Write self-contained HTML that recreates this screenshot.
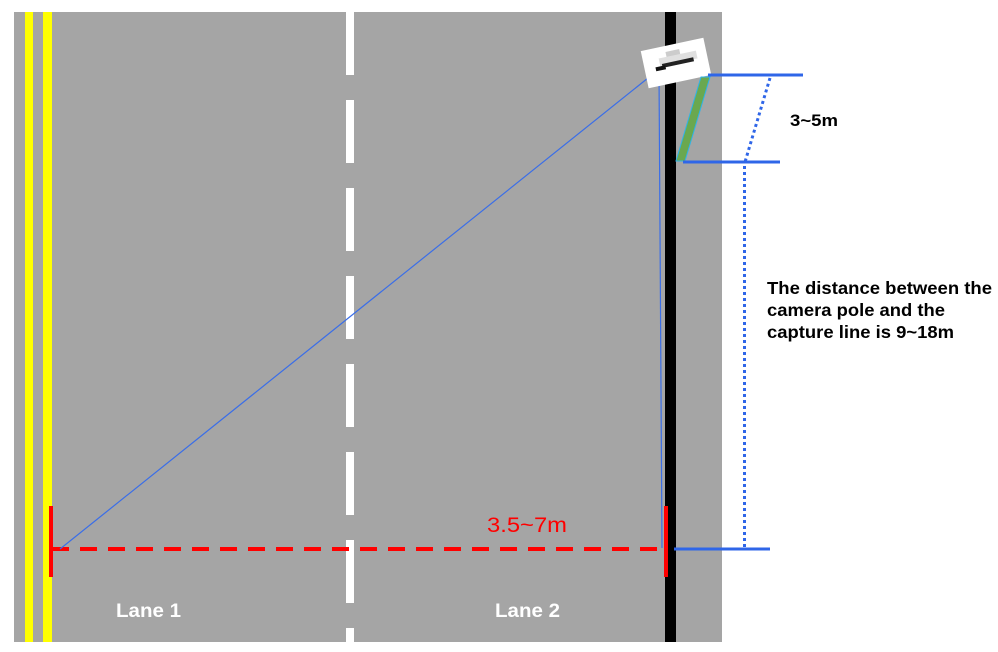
<!DOCTYPE html>
<html><head><style>html,body{margin:0;padding:0;background:#fff}svg{display:block}</style></head>
<body>
<svg width="998" height="652" viewBox="0 0 998 652" xmlns="http://www.w3.org/2000/svg" font-family="Liberation Sans, Arial, sans-serif">
<rect x="14" y="12" width="708" height="630" fill="#a5a5a5"/>
<rect x="25" y="12" width="8" height="630" fill="#ffff00"/>
<rect x="43" y="12" width="9" height="630" fill="#ffff00"/>
<line x1="350" y1="12" x2="350" y2="642" stroke="#fff" stroke-width="8" stroke-dasharray="63 25"/>
<rect x="665" y="12" width="11" height="630" fill="#000"/>
<line x1="52" y1="549" x2="664" y2="549" stroke="#ff0000" stroke-width="4" stroke-dasharray="17 11"/>
<rect x="49" y="506" width="4" height="71" fill="#ff0000"/>
<rect x="664" y="506" width="4" height="71" fill="#ff0000"/>
<line x1="60" y1="549" x2="658" y2="70" stroke="#3a6ee8" stroke-width="1.2"/>
<line x1="659" y1="72" x2="662" y2="548" stroke="#3a6ee8" stroke-width="1.2"/>
<g transform="rotate(-12 676 63)">
<rect x="644" y="44" width="64" height="38" fill="#fff"/>
<rect x="668" y="50" width="14" height="6" fill="#ccc"/>
<rect x="660" y="55" width="38" height="8" fill="#e0e0e0"/>
<rect x="662" y="61" width="32" height="4" fill="#222"/>
<rect x="655" y="63" width="10" height="4" fill="#111"/>
</g>
<polygon points="701,77 710,77 685,161 676,161" fill="#6aa84f" stroke="#2db4e8" stroke-width="1"/>
<line x1="708" y1="75" x2="803" y2="75" stroke="#2f66e8" stroke-width="3"/>
<line x1="683" y1="162" x2="780" y2="162" stroke="#2f66e8" stroke-width="3"/>
<line x1="674" y1="549" x2="770" y2="549" stroke="#2f66e8" stroke-width="3"/>
<line x1="770" y1="78" x2="745" y2="162" stroke="#2f66e8" stroke-width="3" stroke-dasharray="3 3"/>
<line x1="744.5" y1="166" x2="744.5" y2="549" stroke="#2f66e8" stroke-width="3" stroke-dasharray="3 3"/>
<text x="790" y="126" font-size="17" font-weight="bold" fill="#000" textLength="48" lengthAdjust="spacingAndGlyphs">3~5m</text>
<g font-size="17.5" font-weight="bold" fill="#000">
<text x="767" y="294" textLength="225" lengthAdjust="spacingAndGlyphs">The distance between the</text>
<text x="767" y="316" textLength="178" lengthAdjust="spacingAndGlyphs">camera pole and the</text>
<text x="767" y="338" textLength="187" lengthAdjust="spacingAndGlyphs">capture line is 9~18m</text>
</g>
<text x="487" y="532" font-size="21" fill="#ff0000" textLength="80" lengthAdjust="spacingAndGlyphs">3.5~7m</text>
<text x="116" y="617" font-size="19" font-weight="bold" fill="#fff" textLength="65" lengthAdjust="spacingAndGlyphs">Lane 1</text>
<text x="495" y="617" font-size="19" font-weight="bold" fill="#fff" textLength="65" lengthAdjust="spacingAndGlyphs">Lane 2</text>
</svg>
</body></html>
